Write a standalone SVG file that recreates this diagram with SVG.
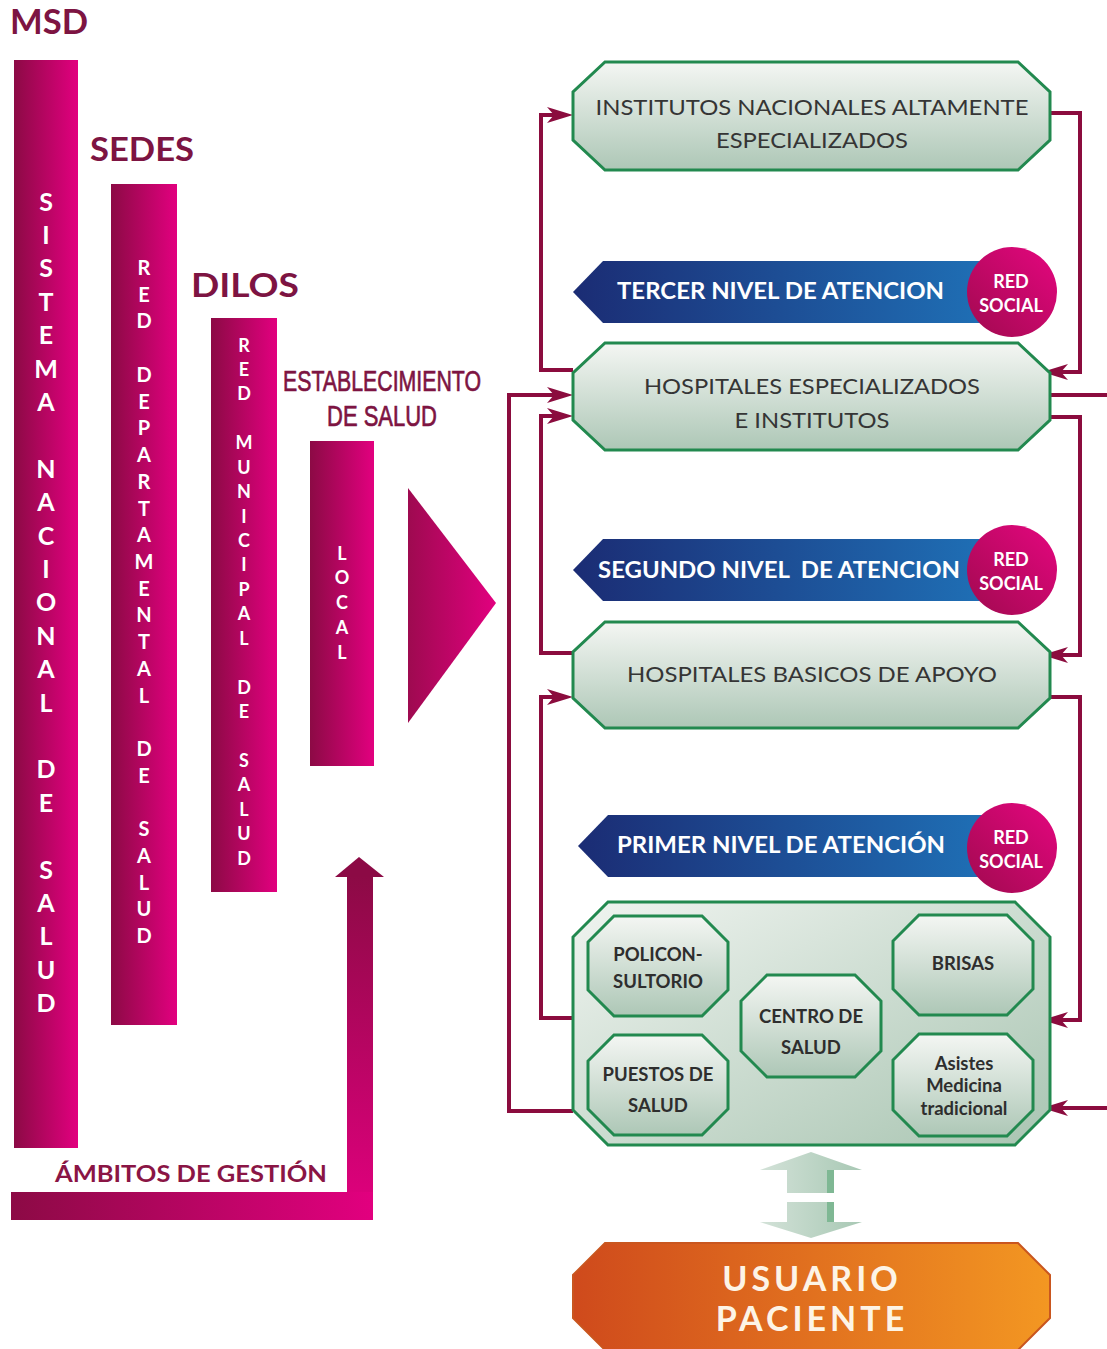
<svg xmlns="http://www.w3.org/2000/svg" width="1107" height="1349" viewBox="0 0 1107 1349">
<defs>
<linearGradient id="gBar" x1="0" y1="0" x2="1" y2="0"><stop offset="0" stop-color="#8c0a45"/><stop offset="1" stop-color="#e2007f"/></linearGradient>
<linearGradient id="gShaft" x1="0" y1="0" x2="0" y2="1"><stop offset="0" stop-color="#8c0a45"/><stop offset="1" stop-color="#e2007f"/></linearGradient>
<linearGradient id="gTri" x1="0" y1="0" x2="1" y2="0"><stop offset="0" stop-color="#9e0a50"/><stop offset="1" stop-color="#e2007f"/></linearGradient>
<linearGradient id="gBox" x1="0" y1="0" x2="0" y2="1"><stop offset="0" stop-color="#f4f6f3"/><stop offset="1" stop-color="#adc7b6"/></linearGradient>
<linearGradient id="gBig" x1="0" y1="0" x2="1" y2="1"><stop offset="0" stop-color="#f0f4f0"/><stop offset="1" stop-color="#a9c5b2"/></linearGradient>
<linearGradient id="gBlue" x1="0" y1="0" x2="1" y2="0"><stop offset="0" stop-color="#1b2c74"/><stop offset="1" stop-color="#1f70b6"/></linearGradient>
<linearGradient id="gRed" x1="0" y1="1" x2="1" y2="0"><stop offset="0" stop-color="#a00a4f"/><stop offset="1" stop-color="#e5067f"/></linearGradient>
<linearGradient id="gOr" x1="0" y1="0" x2="1" y2="0"><stop offset="0" stop-color="#cf4a1c"/><stop offset="1" stop-color="#f39722"/></linearGradient>
<linearGradient id="gDbl" x1="0" y1="0" x2="1" y2="0"><stop offset="0" stop-color="#d3e2d8"/><stop offset="1" stop-color="#a8c8b4"/></linearGradient>
<marker id="ah" markerUnits="userSpaceOnUse" markerWidth="30" markerHeight="20" viewBox="-20 -10 30 20" refX="0" refY="0" orient="auto">
<path d="M8,0 L-18,-8 L-11,0 L-18,8 Z" fill="#8b0c3e"/>
</marker>
</defs>
<style>
.hd{font-family:Lato,"Open Sans",sans-serif;font-weight:700;fill:#7d1442}
.vt{font-family:Lato,"Open Sans",sans-serif;font-weight:700;fill:#ffffff;text-anchor:middle}
.bx{fill:url(#gBox);stroke:#22894f;stroke-width:3}
.bt{font-family:Lato,"Open Sans",sans-serif;fill:#353535;font-size:22px;text-anchor:middle}
.bn{font-family:Lato,"Open Sans",sans-serif;font-weight:700;fill:#ffffff;font-size:23px;white-space:pre}
.rs{font-family:Lato,"Open Sans",sans-serif;font-weight:700;fill:#ffffff;font-size:18px;text-anchor:middle}
.so{fill:url(#gBox);stroke:#22894f;stroke-width:3}
.st{font-family:Lato,"Open Sans",sans-serif;font-weight:700;fill:#2e2e2e;font-size:18.5px;text-anchor:middle}
.cn{fill:none;stroke:#8b0c3e;stroke-width:4}
.es{font-family:"Liberation Sans",Arial,sans-serif;font-size:29.5px;fill:#7d1442;stroke:#7d1442;stroke-width:0.7}
</style>
<rect width="1107" height="1349" fill="#ffffff"/>

<g id="msd">
<text class="hd" x="10" y="34" font-size="34" textLength="78" lengthAdjust="spacingAndGlyphs">MSD</text>
<rect x="14" y="60" width="64" height="1088" fill="url(#gBar)"/>
<text class="vt" font-size="25"><tspan x="46" y="210.5">S</tspan><tspan x="46" y="243.9">I</tspan><tspan x="46" y="277.3">S</tspan><tspan x="46" y="310.7">T</tspan><tspan x="46" y="344.1">E</tspan><tspan x="46" y="377.5">M</tspan><tspan x="46" y="410.9">A</tspan><tspan x="46" y="444.3"> </tspan><tspan x="46" y="477.7">N</tspan><tspan x="46" y="511.1">A</tspan><tspan x="46" y="544.5">C</tspan><tspan x="46" y="577.9">I</tspan><tspan x="46" y="611.3">O</tspan><tspan x="46" y="644.7">N</tspan><tspan x="46" y="678.1">A</tspan><tspan x="46" y="711.5">L</tspan><tspan x="46" y="744.9"> </tspan><tspan x="46" y="778.3">D</tspan><tspan x="46" y="811.7">E</tspan><tspan x="46" y="845.1"> </tspan><tspan x="46" y="878.5">S</tspan><tspan x="46" y="911.9">A</tspan><tspan x="46" y="945.3">L</tspan><tspan x="46" y="978.7">U</tspan><tspan x="46" y="1012.1">D</tspan></text>
</g>

<g id="sedes">
<text class="hd" x="90" y="161" font-size="32" textLength="104" lengthAdjust="spacingAndGlyphs">SEDES</text>
<rect x="111" y="184" width="66" height="841" fill="url(#gBar)"/>
<text class="vt" font-size="20"><tspan x="144" y="275">R</tspan><tspan x="144" y="301.7">E</tspan><tspan x="144" y="328.4">D</tspan><tspan x="144" y="355"> </tspan><tspan x="144" y="381.9">D</tspan><tspan x="144" y="408.6">E</tspan><tspan x="144" y="435.3">P</tspan><tspan x="144" y="462">A</tspan><tspan x="144" y="488.8">R</tspan><tspan x="144" y="515.5">T</tspan><tspan x="144" y="542.2">A</tspan><tspan x="144" y="568.9">M</tspan><tspan x="144" y="595.6">E</tspan><tspan x="144" y="622.4">N</tspan><tspan x="144" y="649.1">T</tspan><tspan x="144" y="675.8">A</tspan><tspan x="144" y="702.5">L</tspan><tspan x="144" y="729"> </tspan><tspan x="144" y="756">D</tspan><tspan x="144" y="782.7">E</tspan><tspan x="144" y="809"> </tspan><tspan x="144" y="836.1">S</tspan><tspan x="144" y="862.8">A</tspan><tspan x="144" y="889.6">L</tspan><tspan x="144" y="916.3">U</tspan><tspan x="144" y="943">D</tspan></text>
</g>

<g id="dilos">
<text class="hd" x="191" y="297" font-size="32" textLength="108" lengthAdjust="spacingAndGlyphs">DILOS</text>
<rect x="211" y="318" width="66" height="574" fill="url(#gBar)"/>
<text class="vt" font-size="18"><tspan x="244" y="351.5">R</tspan><tspan x="244" y="375.9">E</tspan><tspan x="244" y="400.4">D</tspan><tspan x="244" y="424.8"> </tspan><tspan x="244" y="449.2">M</tspan><tspan x="244" y="473.7">U</tspan><tspan x="244" y="498.1">N</tspan><tspan x="244" y="522.5">I</tspan><tspan x="244" y="547">C</tspan><tspan x="244" y="571.4">I</tspan><tspan x="244" y="595.8">P</tspan><tspan x="244" y="620.2">A</tspan><tspan x="244" y="644.7">L</tspan><tspan x="244" y="669"> </tspan><tspan x="244" y="693.5">D</tspan><tspan x="244" y="718">E</tspan><tspan x="244" y="742.4"> </tspan><tspan x="244" y="766.8">S</tspan><tspan x="244" y="791.2">A</tspan><tspan x="244" y="815.7">L</tspan><tspan x="244" y="840.1">U</tspan><tspan x="244" y="864.5">D</tspan></text>
</g>

<g id="establecimiento">
<text class="es" x="283" y="391" textLength="198" lengthAdjust="spacingAndGlyphs">ESTABLECIMIENTO</text>
<text class="es" x="327" y="425.5" textLength="110" lengthAdjust="spacingAndGlyphs">DE SALUD</text>
<rect x="310" y="441" width="64" height="325" fill="url(#gBar)"/>
<text class="vt" font-size="18"><tspan x="342" y="559.5">L</tspan><tspan x="342" y="584.3">O</tspan><tspan x="342" y="609">C</tspan><tspan x="342" y="633.8">A</tspan><tspan x="342" y="658.5">L</tspan></text>
</g>

<g id="triangulo">
<polygon points="408,488 496,603 408,723" fill="url(#gTri)"/>
</g>

<g id="ambitos">
<rect x="347" y="875" width="26" height="345" fill="url(#gShaft)"/>
<polygon points="335,877 359,857 384,877" fill="#8c0a45"/>
<rect x="11" y="1192" width="362" height="28" fill="url(#gBar)"/>
<text x="55" y="1182" font-family="Lato,'Open Sans',sans-serif" font-weight="700" font-size="22" fill="#8a1545" textLength="272" lengthAdjust="spacingAndGlyphs">ÁMBITOS DE GESTIÓN</text>
</g>

<g id="connectors">
<path class="cn" d="M573,370 H541 V115 H565" marker-end="url(#ah)"/>
<path class="cn" d="M573,653 H541 V416 H565" marker-end="url(#ah)"/>
<path class="cn" d="M573,1018 H541 V697 H565" marker-end="url(#ah)"/>
<path class="cn" d="M573,1111 H509 V395 H565" marker-end="url(#ah)"/>
<path class="cn" d="M1050,113 H1080 V372 H1050" marker-end="url(#ah)"/>
<path class="cn" d="M1050,417 H1080 V655 H1050" marker-end="url(#ah)"/>
<path class="cn" d="M1050,697 H1080 V1020 H1050" marker-end="url(#ah)"/>
<path class="cn" d="M1050,395 H1107"/>
<path class="cn" d="M1107,1108 H1050" marker-end="url(#ah)"/>
</g>

<g id="institutos">
<polygon class="bx" points="605,62 1018,62 1050,92 1050,140 1018,170 605,170 573,140 573,92"/>
<text class="bt" x="812" y="115" textLength="433" lengthAdjust="spacingAndGlyphs">INSTITUTOS NACIONALES ALTAMENTE</text>
<text class="bt" x="812" y="148" textLength="192" lengthAdjust="spacingAndGlyphs">ESPECIALIZADOS</text>
</g>

<g id="tercer-nivel">
<path d="M573,292 L603,261 H990 V323 H603 Z" fill="url(#gBlue)"/>
<text class="bn" x="617" y="299" textLength="327" lengthAdjust="spacingAndGlyphs">TERCER NIVEL DE ATENCION</text>
<circle cx="1012" cy="292" r="45" fill="url(#gRed)"/>
<text class="rs" x="1011" y="288">RED</text>
<text class="rs" x="1011" y="312">SOCIAL</text>
</g>

<g id="hospitales-especializados">
<polygon class="bx" points="605,343 1018,343 1050,373 1050,420 1018,450 605,450 573,420 573,373"/>
<text class="bt" x="812" y="394" textLength="336" lengthAdjust="spacingAndGlyphs">HOSPITALES ESPECIALIZADOS</text>
<text class="bt" x="812" y="428" textLength="155" lengthAdjust="spacingAndGlyphs">E INSTITUTOS</text>
</g>

<g id="segundo-nivel">
<path d="M573,570 L603,539 H990 V601 H603 Z" fill="url(#gBlue)"/>
<text class="bn" x="598" y="578" textLength="362" lengthAdjust="spacingAndGlyphs">SEGUNDO NIVEL  DE ATENCION</text>
<circle cx="1012" cy="570" r="45" fill="url(#gRed)"/>
<text class="rs" x="1011" y="566">RED</text>
<text class="rs" x="1011" y="590">SOCIAL</text>
</g>

<g id="hospitales-basicos">
<polygon class="bx" points="605,622 1018,622 1050,652 1050,698 1018,728 605,728 573,698 573,652"/>
<text class="bt" x="812" y="682" textLength="370" lengthAdjust="spacingAndGlyphs">HOSPITALES BASICOS DE APOYO</text>
</g>

<g id="primer-nivel">
<path d="M578,846 L608,815 H990 V877 H608 Z" fill="url(#gBlue)"/>
<text class="bn" x="617" y="853" textLength="328" lengthAdjust="spacingAndGlyphs">PRIMER NIVEL DE ATENCIÓN</text>
<circle cx="1012" cy="848" r="45" fill="url(#gRed)"/>
<text class="rs" x="1011" y="844">RED</text>
<text class="rs" x="1011" y="868">SOCIAL</text>
</g>

<g id="primer-nivel-establecimientos">
<polygon points="608,902 1015,902 1050,937 1050,1110 1015,1145 608,1145 573,1110 573,937" fill="url(#gBig)" stroke="#22894f" stroke-width="3"/>
<g id="policonsultorio">
<polygon class="so" points="614,916 702,916 728,942 728,990 702,1016 614,1016 588,990 588,942"/>
<text class="st" x="658" y="961">POLICON-</text>
<text class="st" x="658" y="988">SULTORIO</text>
</g>
<g id="puestos-de-salud">
<polygon class="so" points="614,1035 702,1035 728,1061 728,1109 702,1135 614,1135 588,1109 588,1061"/>
<text class="st" x="658" y="1081">PUESTOS DE</text>
<text class="st" x="658" y="1112">SALUD</text>
</g>
<g id="centro-de-salud">
<polygon class="so" points="767,975 855,975 881,1001 881,1051 855,1077 767,1077 741,1051 741,1001"/>
<text class="st" x="811" y="1023">CENTRO DE</text>
<text class="st" x="811" y="1054">SALUD</text>
</g>
<g id="brisas">
<polygon class="so" points="919,915 1007,915 1033,941 1033,989 1007,1015 919,1015 893,989 893,941"/>
<text class="st" x="963" y="970">BRISAS</text>
</g>
<g id="asistes">
<polygon class="so" points="919,1034 1007,1034 1033,1060 1033,1110 1007,1136 919,1136 893,1110 893,1060"/>
<text class="st" x="964" y="1070" font-size="17.5">Asistes</text>
<text class="st" x="964" y="1092" font-size="17.5">Medicina</text>
<text class="st" x="964" y="1115" font-size="17.5">tradicional</text>
</g>
</g>

<g id="doble-flecha">
<polygon points="811,1152 862,1170 834,1170 834,1193 787,1193 787,1170 760,1170" fill="url(#gDbl)"/>
<rect x="827" y="1170" width="7" height="23" fill="#7fb894"/>
<polygon points="787,1202 834,1202 834,1222 862,1222 811,1238 760,1222 787,1222" fill="url(#gDbl)"/>
<rect x="827" y="1202" width="7" height="20" fill="#7fb894"/>
</g>

<g id="usuario-paciente">
<polygon points="605,1243 1018,1243 1050,1275 1050,1318 1018,1350 605,1350 573,1318 573,1275" fill="url(#gOr)" stroke="#c9561f" stroke-width="2"/>
<text x="812" y="1291" font-family="Lato,'Open Sans',sans-serif" font-weight="700" font-size="34" fill="#fdf4e6" text-anchor="middle" letter-spacing="4">USUARIO</text>
<text x="812" y="1331" font-family="Lato,'Open Sans',sans-serif" font-weight="700" font-size="34" fill="#fdf4e6" text-anchor="middle" letter-spacing="4">PACIENTE</text>
</g>
</svg>
